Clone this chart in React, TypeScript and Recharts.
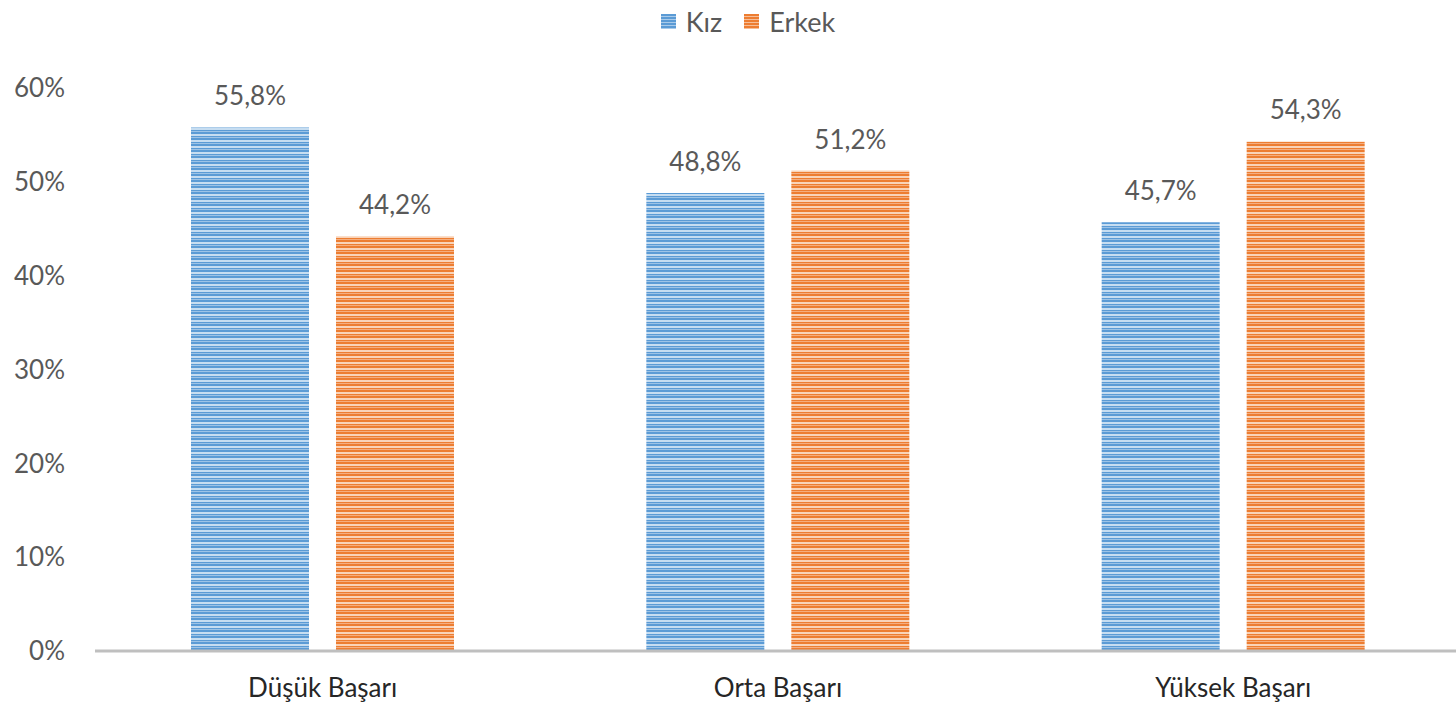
import React from "react";
import { BarChart, Bar, XAxis, YAxis, LabelList, ReferenceLine } from "recharts";

const categories = ["Düşük Başarı", "Orta Başarı", "Yüksek Başarı"];
const kiz = [55.8, 48.8, 45.7];
const erkek = [44.2, 51.2, 54.3];
const yTicks = [0, 10, 20, 30, 40, 50, 60];

const FONT = "Lato, 'Open Sans', sans-serif";
const TEXT = "#595959";

const data = categories.map((c, i) => ({ name: c, kiz: kiz[i], erkek: erkek[i] }));

const pct = (v: any) => `${Number(v).toFixed(1).replace(".", ",")}%`;

function LegendBox() {
  const item = (color: string, light: string, label: string) => (
    <span style={{ display: "inline-flex", alignItems: "center", gap: 10, margin: "0 11px" }}>
      <span style={{
        width: 15, height: 15, display: "inline-block",
        background: `repeating-linear-gradient(180deg, ${color} 0 2px, ${light} 2px 3px)`,
      }} />
      <span>{label}</span>
    </span>
  );
  return (
    <div style={{ position: "absolute", top: 2, left: 20, width: 1456, textAlign: "center",
      fontFamily: FONT, fontSize: 27, color: TEXT }}>
      {item("#5B9BD5", "#A9CBEA", "Kız")}
      {item("#ED7D31", "#F6BE98", "Erkek")}
    </div>
  );
}

export default function App() {
  return (
    <div style={{ position: "absolute", left: 0, top: 0, width: 1456, height: 715, background: "white", overflow: "hidden" }}>
      <BarChart width={1461} height={715} data={data} barSize={118} barGap={27}
        margin={{ top: 88, right: 0, left: 0, bottom: 0 }}>
        <defs>
          <pattern id="stripeBlue" width="8" height="6" patternUnits="userSpaceOnUse">
            <rect width="8" height="6" fill="#5B9BD5" />
            <rect y="2" width="8" height="2" fill="#C6DDF1" />
            <rect y="5" width="8" height="1" fill="#9DC3E6" />
          </pattern>
          <pattern id="stripeOrange" width="8" height="6" patternUnits="userSpaceOnUse">
            <rect width="8" height="6" fill="#ED7D31" />
            <rect y="2" width="8" height="2" fill="#F9D3B8" />
            <rect y="5" width="8" height="1" fill="#F4AE80" />
          </pattern>
        </defs>
        <XAxis dataKey="name" height={64} axisLine={false} tickLine={false}
          tick={{ fontSize: 26, fill: "#262626", fontFamily: FONT }} tickMargin={22} />
        <YAxis domain={[0, 60]} ticks={yTicks} width={95} axisLine={false} tickLine={false}
          tickFormatter={(v) => `${v}%`} tickMargin={24}
          tick={{ fontSize: 26, fill: TEXT, fontFamily: FONT }} />
        <Bar dataKey="kiz" name="Kız" fill="url(#stripeBlue)" isAnimationActive={false}>
          <LabelList dataKey="kiz" position="top" offset={22} formatter={pct}
            style={{ fontSize: 26, fill: TEXT, fontFamily: FONT }} />
        </Bar>
        <Bar dataKey="erkek" name="Erkek" fill="url(#stripeOrange)" isAnimationActive={false}>
          <LabelList dataKey="erkek" position="top" offset={22} formatter={pct}
            style={{ fontSize: 26, fill: TEXT, fontFamily: FONT }} />
        </Bar>
        <ReferenceLine y={0} stroke="#BFBFBF" strokeWidth={3} />
      </BarChart>
      <LegendBox />
    </div>
  );
}
